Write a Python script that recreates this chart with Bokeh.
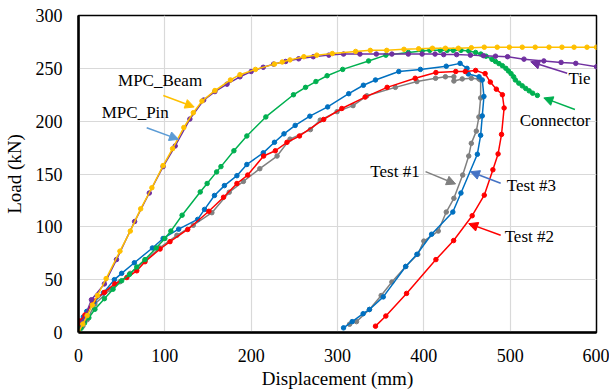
from bokeh.plotting import figure
from bokeh.models import Range1d, Label, Arrow, NormalHead, FixedTicker
from bokeh.embed import file_html
from bokeh.resources import INLINE

# ---- data (displacement mm, load kN) ----
beam_x = [0, 5, 10, 16, 22, 32, 48, 60, 72, 85, 98, 109, 122, 133, 143, 158, 176, 187, 205, 227, 236, 245, 261, 276, 294, 321, 338, 357, 377, 394, 410, 425, 440, 455, 470, 485, 499, 514, 529, 545, 560, 574, 589, 600]
beam_y = [0, 8, 16, 26, 35, 51, 77, 96, 117, 137, 158, 174, 194, 208, 219, 229, 239, 244, 249, 254, 256, 258, 261, 262.5, 264, 266, 267, 267, 268, 268.5, 269, 269, 269, 269.5, 270, 270, 270, 270, 270, 270, 270, 270, 270, 270]

tie_x = [0, 5, 15, 30, 44, 65, 82, 98, 112, 129, 145, 158, 172, 187, 200, 214, 226, 240, 255, 272, 290, 307, 326, 345, 363, 382, 398, 413, 423, 438, 454, 469, 483, 497, 516, 539, 559, 576, 600]
tie_y = [0, 10, 31, 46, 69, 105, 132, 157, 176.5, 202, 220, 228, 235, 242, 247, 251, 254, 256.5, 259, 261, 262.5, 263.5, 263.5, 263.5, 263.5, 263.5, 263.5, 263.5, 263, 263, 262.5, 262, 261.5, 261, 258.7, 257, 255.6, 254.7, 251.5]

conn_x = [0, 3, 7, 12, 19, 30, 40, 50, 59, 67.5, 77, 90, 100, 107, 120, 141, 149, 160, 165, 180, 195, 217, 249, 263, 275, 288, 306, 336, 356, 382, 398, 407, 419, 427, 434, 443, 452, 460, 466, 472, 479, 483, 487, 491, 495, 498, 501, 504, 506, 510, 514, 518, 522, 526, 531.5]
conn_y = [0, 4, 9, 14, 22, 32, 41, 49, 55, 62, 69, 80, 89, 96, 111, 133, 141, 152, 157, 172, 186, 204, 225, 232, 237.5, 243, 249, 257, 262.5, 265, 266.5, 267, 267, 267, 267, 267, 266.5, 265, 263.5, 261.5, 258.5, 256.5, 254.5, 252.5, 250, 247.5, 245, 242, 239, 236, 233.4, 231, 228.7, 226.5, 224.4]

t1_x = [0, 5, 10, 19, 36.5, 48, 60, 77, 94, 114, 133, 154.5, 174.6, 191, 210, 230, 245, 268.6, 280, 299.5, 318, 334, 367, 392, 413.6, 425, 434.8, 434.8, 444.5, 455, 463.8, 465.8, 465.8, 463.8, 460.8, 455, 452, 445, 434.8, 426, 416.7, 400, 393, 379, 363, 350.6, 337, 322, 314]
t1_y = [0, 6, 12, 27, 40.6, 48, 56, 68, 80, 92, 101.5, 113.4, 132.8, 143, 155, 167, 183, 192, 201, 209, 214.7, 224, 232, 237.5, 240.6, 242, 242, 238, 240, 240.6, 240, 239, 222, 204, 190.6, 179, 167, 149, 127, 114, 96, 86.5, 74, 62.5, 47.8, 35, 21.8, 10.3, 7.8]

t2_x = [0, 1.7, 7.5, 17, 30, 42, 56, 67.5, 77, 94.5, 106, 126.5, 151, 168, 183.5, 196, 214.4, 228, 241.5, 256, 284, 305, 332, 357.5, 390, 414, 437, 448, 460, 471, 477, 484, 491, 493, 490, 486, 480, 470, 456, 434.5, 414, 380, 356, 344]
t2_y = [0, 11, 16.6, 30, 38, 46, 52, 58.4, 67, 79, 86, 97.5, 114.7, 128, 141, 149, 167, 172, 180, 186, 201.6, 212, 222.8, 232, 240.6, 246, 247, 247, 248, 245, 237, 230.3, 225, 212.5, 187.5, 169, 154, 130, 110.5, 87, 69, 37, 15.6, 6]

t3_x = [0, 5.6, 9.5, 18, 28.8, 41.5, 50, 64.7, 85.6, 98, 116, 138, 146, 157.5, 169, 183.5, 195, 214, 227, 238, 251, 268, 288.6, 313, 330, 344, 371, 396, 426, 442, 450, 451.5, 464, 467.7, 469.6, 467.7, 465.8, 462, 443, 433.6, 409, 392, 379, 353, 337, 329.7, 317, 307]
t3_y = [0, 14.7, 20, 29, 37.5, 50, 56, 66, 80, 89, 97.8, 107, 116.5, 129.7, 139, 148.4, 159, 170, 180, 188, 196, 204.7, 213.5, 226, 234, 239, 247, 249, 252, 254.7, 250, 244.7, 242, 239, 223.4, 205, 186.6, 168.7, 132, 114, 93, 74, 62.5, 33.7, 21.8, 17.8, 10.3, 4.4]

x_ticks = [0, 100, 200, 300, 400, 500, 600]
y_ticks = [0, 50, 100, 150, 200, 250, 300]

FONT = "Liberation Serif"

p = figure(width=609, height=391, output_backend="svg", toolbar_location=None,
           x_range=Range1d(0, 600), y_range=Range1d(0, 300),
           min_border_left=78, min_border_right=13, min_border_top=15, min_border_bottom=56)
p.background_fill_color = "white"
p.border_fill_color = "white"
p.outline_line_color = "black"
p.outline_line_width = 1.5

p.xaxis.ticker = FixedTicker(ticks=x_ticks)
p.yaxis.ticker = FixedTicker(ticks=y_ticks)
for ax in (p.xaxis, p.yaxis):
    ax.axis_line_color = "black"
    ax.axis_line_width = 2.5
    ax.major_tick_line_color = None
    ax.minor_tick_line_color = None
    ax.major_label_text_font = FONT
    ax.major_label_text_font_size = "18px"
    ax.major_label_text_color = "black"
    ax.axis_label_text_font = FONT
    ax.axis_label_text_font_size = "19px"
    ax.axis_label_text_font_style = "normal"
    ax.axis_label_text_color = "black"
p.xaxis.axis_label = "Displacement (mm)"
p.yaxis.axis_label = "Load (kN)"
p.xaxis.major_label_standoff = 10
p.yaxis.major_label_standoff = 10
p.xaxis.axis_label_standoff = 3
p.yaxis.axis_label_standoff = 8
p.xgrid.grid_line_color = "#D9D9D9"
p.ygrid.grid_line_color = "#D9D9D9"
p.xgrid.grid_line_width = 1.2
p.ygrid.grid_line_width = 1.2

series = [
    (t1_x, t1_y, "#808080"),
    (t3_x, t3_y, "#0070C0"),
    (t2_x, t2_y, "#FF0000"),
    (conn_x, conn_y, "#00B050"),
    (tie_x, tie_y, "#7030A0"),
    (beam_x, beam_y, "#FFC000"),
]
for xs, ys, c in series:
    p.line(xs, ys, line_color=c, line_width=1.5)
    p.scatter(xs, ys, size=4.5, fill_color=c, line_color=c)

labels = [
    ("MPC_Beam", 45.8, 238.6),
    ("MPC_Pin", 26.9, 207.8),
    ("Tie", 567.5, 240.6),
    ("Connector", 511, 200.6),
    ("Test #1", 338, 151.9),
    ("Test #3", 496, 139),
    ("Test #2", 493.6, 91),
]
for t, x, y in labels:
    p.add_layout(Label(x=x, y=y, text=t, text_font=FONT, text_font_size="17px",
                       text_color="black", text_baseline="middle", text_align="left"))

arrows = [
    (98.2, 224.3, 134, 213.4, "#FFC000"),
    (79, 193.8, 115.8, 182.8, "#5B9BD5"),
    (566, 245.3, 523.8, 256.2, "#7030A0"),
    (575, 211, 539, 222, "#00B050"),
    (402, 152.2, 436.8, 140.6, "#808080"),
    (489, 141.3, 454, 152.2, "#4472C4"),
    (489, 92, 452, 103, "#FF0000"),
]
for x0, y0, x1, y1, c in arrows:
    p.add_layout(Arrow(x_start=x0, y_start=y0, x_end=x1, y_end=y1, line_color=c, line_width=1.5,
                       end=NormalHead(size=9, fill_color=c, line_color=c)))

open("out.html", "w").write(file_html(p, INLINE))
